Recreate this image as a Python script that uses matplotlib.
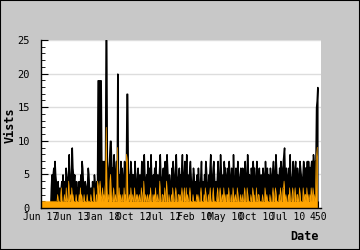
import numpy as np
import matplotlib
matplotlib.use('Agg')
import matplotlib.pyplot as plt
from matplotlib.ticker import MultipleLocator

# daily visits (black) and unique visitors (orange), 450 days
visits = [
    0,0,0,0,0,0,0,0,0,0,0,0,0,0,0,0,3,5,4,5,6,4,7,5,4,
    3,3,4,2,3,3,2,3,4,3,5,3,2,4,3,6,5,3,4,5,8,5,3,4,6,
    9,6,5,4,5,3,2,4,3,3,2,4,3,3,5,4,7,6,4,3,3,4,3,2,3,
    4,6,5,3,2,3,3,2,4,3,2,5,4,3,3,4,3,19,19,19,19,19,19,7,5,
    7,5,6,7,5,25,25,7,5,4,6,8,10,10,7,5,6,4,8,6,5,4,7,3,20,
    6,4,5,3,7,5,6,4,3,5,7,5,4,6,17,17,6,4,5,3,7,6,4,5,3,
    5,4,7,5,3,2,5,6,4,3,5,2,4,7,5,3,6,8,5,4,3,5,4,7,3,
    4,6,5,8,5,4,3,5,4,6,5,7,4,3,5,2,4,6,8,5,4,3,5,6,3,
    4,7,5,3,8,6,4,3,5,4,2,3,6,4,7,5,3,4,6,8,5,3,4,5,6,
    3,5,4,6,8,4,3,5,7,2,4,8,3,5,3,4,6,7,5,3,2,4,6,5,3,
    2,4,3,5,2,6,4,3,2,5,7,3,4,2,3,5,4,7,6,4,3,2,5,4,6,
    8,5,3,4,6,7,5,3,2,4,3,5,7,4,3,5,8,6,4,3,5,4,7,5,6,
    4,3,5,6,4,7,5,3,4,6,4,3,8,5,4,3,6,5,4,7,5,3,4,5,6,
    3,4,6,5,3,5,7,4,3,5,8,6,4,5,3,4,6,5,4,7,5,6,3,4,5,
    7,4,3,5,6,4,3,5,2,4,6,5,3,4,7,5,3,6,4,5,3,4,6,5,3,
    4,6,7,5,3,5,8,6,4,5,3,4,6,5,7,6,4,5,7,8,9,5,4,6,5,
    3,4,6,5,8,5,4,3,5,7,4,3,6,7,5,4,6,5,3,4,7,6,5,4,3,
    5,7,6,6,6,6,6,7,6,7,6,6,6,6,7,7,6,8,7,6,7,7,15,16,18,
]
uniques = [
    1,1,1,1,1,1,1,1,1,1,1,1,1,1,1,1,1,1,1,1,1,1,1,1,1,
    1,1,2,1,1,1,1,2,3,1,1,1,1,2,1,1,3,1,1,2,4,1,1,2,1,
    3,1,2,1,1,1,1,2,1,1,1,1,2,1,3,1,2,1,1,1,2,1,1,1,1,
    2,1,1,1,1,1,2,1,1,1,1,3,1,1,1,2,1,4,3,2,3,4,2,1,2,
    3,1,2,1,3,4,12,3,1,1,2,1,4,5,2,1,1,2,3,1,1,2,1,1,9,
    2,1,3,1,2,1,1,2,1,1,3,1,2,1,8,7,2,1,1,2,1,3,1,1,2,
    1,1,3,1,1,2,1,2,1,1,2,1,1,3,2,1,1,4,1,1,2,1,1,2,1,
    1,2,1,3,1,1,1,2,1,2,1,3,1,1,2,1,1,2,4,1,1,1,2,2,1,
    1,3,1,1,4,2,1,1,2,1,1,1,2,1,3,1,1,1,2,3,1,1,1,2,2,
    1,2,1,2,3,1,1,2,3,1,1,3,1,2,1,1,2,3,1,1,1,1,2,1,1,
    1,1,1,2,1,2,1,1,1,2,3,1,1,1,1,2,1,3,2,1,1,1,2,1,2,
    3,1,1,1,2,3,1,1,1,1,1,2,3,1,1,2,3,2,1,1,2,1,3,1,2,
    1,1,2,2,1,3,1,1,1,2,1,1,3,2,1,1,2,1,1,3,2,1,1,1,2,
    1,1,2,1,1,2,3,1,1,1,3,2,1,1,1,1,2,1,1,3,2,2,1,1,1,
    3,1,1,2,2,1,1,1,1,1,2,1,1,1,3,2,1,2,1,1,1,1,2,1,1,
    1,2,3,1,1,2,3,2,1,1,1,1,2,1,3,2,1,1,3,3,4,2,1,2,1,
    1,1,2,1,3,1,1,1,2,3,1,1,2,3,1,1,2,2,1,1,3,2,1,1,1,
    1,3,2,1,2,2,1,3,1,2,1,1,2,1,3,2,1,3,2,1,2,2,7,8,9,
]
tick_pos = [0, 50, 100, 150, 200, 250, 300, 350, 400, 450]
tick_labels = ['Jun 17', 'Jun 13', 'Jan 18', 'Oct 12', 'Jul 12',
               'Feb 10', 'May 10', 'Oct 10', 'Jul 10', '450']

bg = '#c8c8c8'
mono = 'DejaVu Sans Mono'

fig = plt.figure(figsize=(3.6, 2.5), dpi=100, facecolor=bg)
fig.patches.append(plt.Rectangle((0, 0), 1, 1, transform=fig.transFigure,
                                 fill=False, edgecolor='black', linewidth=1.5))
ax = fig.add_axes([41 / 360, 42 / 250, 280 / 360, 168 / 250])
ax.set_facecolor('white')

x = np.arange(len(visits))
ax.fill_between(x, visits, color='black', linewidth=1.1, zorder=2)
ax.fill_between(x, uniques, color='#ffa500', linewidth=0, zorder=3)
ax.plot(x, uniques, color='#ffa500', linewidth=0.5, zorder=3)

ax.set_xlim(0, 455)
ax.set_ylim(0, 25)
ax.yaxis.set_major_locator(MultipleLocator(5))
ax.yaxis.set_minor_locator(MultipleLocator(1))
ax.grid(axis='y', color='#dddddd', linewidth=1, zorder=0)
ax.set_axisbelow(True)

ax.set_xticks(tick_pos)
ax.set_xticklabels(tick_labels, fontfamily=mono, fontsize=7)
for lab in ax.get_yticklabels():
    lab.set_fontfamily(mono)
ax.tick_params(axis='y', which='major', direction='in', length=5, labelsize=7.5, pad=8)
ax.tick_params(axis='y', which='minor', direction='in', length=3)
ax.tick_params(axis='x', direction='in', length=5, pad=3)

for s in ['top', 'right']:
    ax.spines[s].set_visible(False)
ax.spines['left'].set_linewidth(1)
ax.spines['bottom'].set_linewidth(1)
ax.spines['left'].set_zorder(5)
ax.spines['bottom'].set_zorder(5)

fig.text(10 / 360, 1 - 125 / 250, 'Vists', rotation=90, ha='center', va='center',
         fontfamily=mono, fontweight='bold', fontsize=8.5)
fig.text(319 / 360, 1 - 236 / 250, 'Date', ha='right', va='center',
         fontfamily=mono, fontweight='bold', fontsize=8.5)

fig.savefig('out.png', dpi=100, facecolor=bg)
